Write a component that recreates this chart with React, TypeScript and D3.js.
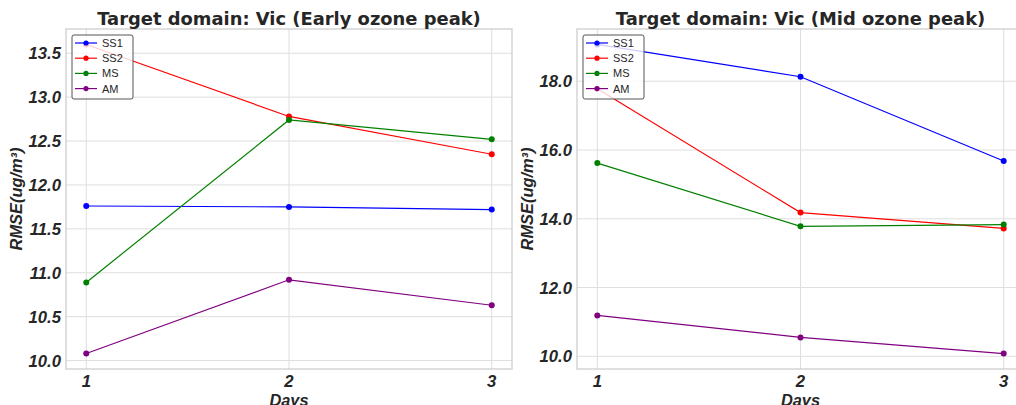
import React from "react";
import * as d3 from "d3";

const days = [1, 2, 3];
const seriesNames = ["SS1", "SS2", "MS", "AM"];
const colors: Record<string, string> = { SS1: "blue", SS2: "red", MS: "green", AM: "purple" };

// Early ozone peak
const earlySS1 = [11.76, 11.75, 11.72];
const earlySS2 = [13.6, 12.78, 12.35];
const earlyMS = [10.89, 12.74, 12.52];
const earlyAM = [10.08, 10.92, 10.63];
const earlyTicks = [10.0, 10.5, 11.0, 11.5, 12.0, 12.5, 13.0, 13.5];

// Mid ozone peak
const midSS1 = [19.07, 18.13, 15.68];
const midSS2 = [17.78, 14.18, 13.72];
const midMS = [15.62, 13.78, 13.83];
const midAM = [11.19, 10.55, 10.08];
const midTicks = [10.0, 12.0, 14.0, 16.0, 18.0];

const W = 1016;
const H = 405;
const top = 29;
const bottom = 369;
const textColor = "#262626";
const tickFont = "'Liberation Sans', Arial, sans-serif";

type PanelProps = {
  title: string;
  left: number;
  right: number;
  labelX: number;
  data: number[][];
  ticks: number[];
};

function Panel({ title, left, right, labelX, data, ticks }: PanelProps) {
  const x = d3.scaleLinear().domain([0.9, 3.1]).range([left, right]);
  const all = data.flat();
  const [lo, hi] = d3.extent(all) as [number, number];
  const pad = (hi - lo) * 0.05;
  const y = d3.scaleLinear().domain([lo - pad, hi + pad]).range([bottom, top]);
  const line = d3
    .line<number>()
    .x((_, i) => x(days[i]))
    .y((d) => y(d));
  const clipId = "clip" + left;

  return (
    <g>
      <defs>
        <clipPath id={clipId}>
          <rect x={left} y={top} width={right - left} height={bottom - top} />
        </clipPath>
      </defs>
      <rect x={left} y={top} width={right - left} height={bottom - top} fill="white" />
      {/* grid */}
      {days.map((d) => (
        <line key={"gx" + d} x1={x(d)} x2={x(d)} y1={top} y2={bottom} stroke="#dedede" strokeWidth={1} />
      ))}
      {ticks.map((t) => (
        <line key={"gy" + t} x1={left} x2={right} y1={y(t)} y2={y(t)} stroke="#dedede" strokeWidth={1} />
      ))}
      {/* series */}
      <g clipPath={`url(#${clipId})`}>
        {data.map((vals, si) => (
          <g key={seriesNames[si]}>
            <path d={line(vals) || ""} fill="none" stroke={colors[seriesNames[si]]} strokeWidth={1.2} />
            {vals.map((v, i) => (
              <circle key={i} cx={x(days[i])} cy={y(v)} r={3} fill={colors[seriesNames[si]]} />
            ))}
          </g>
        ))}
      </g>
      <rect x={left} y={top} width={right - left} height={bottom - top} fill="none" stroke="#cccccc" strokeWidth={1.25} />
      {/* y tick labels */}
      {ticks.map((t) => (
        <text
          key={"ty" + t}
          x={left - 5}
          y={y(t)}
          dy="0.36em"
          textAnchor="end"
          fontFamily={tickFont}
          fontWeight="bold"
          fontStyle="italic"
          fontSize={16.7}
          fill={textColor}
        >
          {d3.format(".1f")(t)}
        </text>
      ))}
      {/* x tick labels */}
      {days.map((d) => (
        <text
          key={"tx" + d}
          x={x(d)}
          y={387}
          textAnchor="middle"
          fontFamily={tickFont}
          fontWeight="bold"
          fontStyle="italic"
          fontSize={16.7}
          fill={textColor}
        >
          {d}
        </text>
      ))}
      <text
        x={(left + right) / 2}
        y={405.5}
        textAnchor="middle"
        fontFamily={tickFont}
        fontWeight="bold"
        fontStyle="italic"
        fontSize={16.4}
        fill={textColor}
      >
        Days
      </text>
      <text
        transform={`translate(${labelX},${(top + bottom) / 2}) rotate(-90)`}
        dy="0.36em"
        textAnchor="middle"
        fontFamily={tickFont}
        fontWeight="bold"
        fontStyle="italic"
        fontSize={16.4}
        fill={textColor}
      >
        RMSE(ug/m³)
      </text>
      <text
        x={(left + right) / 2}
        y={24.5}
        textAnchor="middle"
        fontFamily="'DejaVu Sans', sans-serif"
        fontWeight="bold"
        fontSize={17.9}
        fill={textColor}
      >
        {title}
      </text>
      {/* legend */}
      <g transform={`translate(${left + 6},${top + 6})`}>
        <rect x={0} y={0} width={61} height={64} rx={2} fill="white" fillOpacity={0.8} stroke="#555" strokeWidth={1} />
        {seriesNames.map((n, i) => (
          <g key={n} transform={`translate(0,${8 + i * 15.2})`}>
            <line x1={3} x2={25} y1={0} y2={0} stroke={colors[n]} strokeWidth={1.2} />
            <circle cx={14} cy={0} r={2.6} fill={colors[n]} />
            <text x={30} y={0} dy="0.36em" fontFamily={tickFont} fontSize={11} fill={textColor}>
              {n}
            </text>
          </g>
        ))}
      </g>
    </g>
  );
}

export default function App() {
  return (
    <div style={{ position: "absolute", left: 0, top: 0 }}>
      <svg width={W} height={H} style={{ display: "block" }}>
        <rect width={W} height={H} fill="white" />
        <Panel
          title="Target domain: Vic (Early ozone peak)"
          left={66}
          right={512}
          labelX={16}
          data={[earlySS1, earlySS2, earlyMS, earlyAM]}
          ticks={earlyTicks}
        />
        <Panel
          title="Target domain: Vic (Mid ozone peak)"
          left={577}
          right={1024}
          labelX={527}
          data={[midSS1, midSS2, midMS, midAM]}
          ticks={midTicks}
        />
      </svg>
    </div>
  );
}
